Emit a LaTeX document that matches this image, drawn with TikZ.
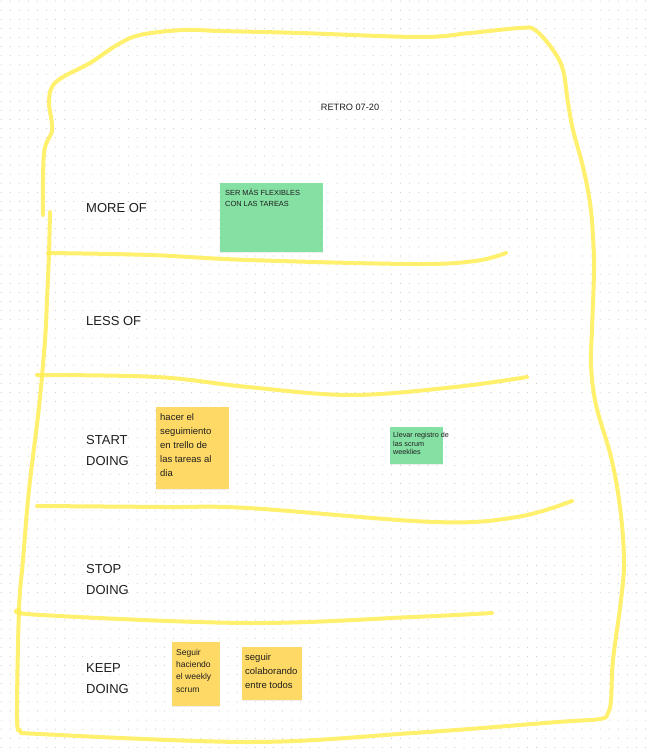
\documentclass[tikz,border=0pt]{standalone}
\usepackage{fontspec}
\setmainfont{Liberation Sans}
\usepackage{tikz}
\usetikzlibrary{positioning}
\usetikzlibrary{shadows}
\definecolor{notegreen}{HTML}{85E0A3}
\definecolor{noteyellow}{HTML}{FFD966}
\definecolor{marker}{HTML}{FFEE55}
\definecolor{inkdark}{HTML}{1E1E1E}
\tikzstyle{grid_dot}=[fill=black!22]
\tikzstyle{marker_line}=[draw=marker, opacity=0.85, line width=4pt, line cap=round, line join=round]
\tikzstyle{lane_label}=[anchor=west, inner sep=0pt, text=inkdark, align=left,
    font=\fontsize{13}{21}\selectfont]
\tikzstyle{note}=[anchor=north west, inner sep=0pt, draw=none,
    drop shadow={shadow xshift=0pt, shadow yshift=-1pt, opacity=0.12}]
\tikzstyle{note_green}=[note, fill=notegreen]
\tikzstyle{note_yellow}=[note, fill=noteyellow]
\tikzstyle{note_text}=[anchor=north west, inner sep=0pt, text=inkdark, align=left]

\begin{document}
\begin{tikzpicture}[x=1pt, y=-1pt]
\fill[white] (0,0) rectangle (646,751);
\useasboundingbox (0,0) rectangle (646,751);
\foreach \i in {0,...,71}{
  \foreach \j in {0,...,82}{
    \fill[grid_dot] ({1.2+\i*9.075},{1.2+\j*9.1}) circle (0.55);
  }
}
\draw[marker_line] plot[smooth, tension=0.6] coordinates {(43,215) (44,153) (52,130) (49,103) (52,87)
  (63,77) (90,63) (117,45) (140,35) (183,30) (220,31) (300,33) (420,37) (470,33) (520,28) (535,30)
  (553,50) (563,70) (568,103) (573,130) (583,167) (590,203) (593,237) (594,270) (592,330) (591,365)
  (596,405) (611,457) (620,507) (624,560) (621,600) (613,660) (611,700) (608,713) (600,719)
  (558,722) (413,733) (248,742) (21,733)};
\draw[marker_line] plot[smooth, tension=0.6] coordinates {(50,212) (49,253) (47,300) (45,340) (39,407)
  (29,490) (23,560) (19,610) (17,717) (20,730)};
\draw[marker_line] plot[smooth, tension=0.6] coordinates {(48,253) (150,255) (248,260) (413,264)
  (475,261) (506,253)};
\draw[marker_line] plot[smooth, tension=0.6] coordinates {(37,375) (157,377) (248,387) (351,395)
  (455,387) (527,377)};
\draw[marker_line] plot[smooth, tension=0.6] coordinates {(37,506) (165,507) (248,508) (434,522)
  (517,517) (572,501)};
\draw[marker_line] plot[smooth, tension=0.6] coordinates {(19,610) (41,615) (248,623) (413,617)
  (492,613)};
\node[inner sep=0pt, text=inkdark, font=\fontsize{9.2}{11}\selectfont] (title) at (350,107) {RETRO 07-20};
\node[lane_label] (more) at (86,208) {MORE OF};
\node[lane_label] (less) at (86,321) {LESS OF};
\node[lane_label] (start) at (86,450.5) {START\\DOING};
\node[lane_label] (stop) at (86,579.5) {STOP\\DOING};
\node[lane_label] (keep) at (86,678.5) {KEEP\\DOING};
\node[note_green, minimum width=103pt, minimum height=69pt] (n_flex) at (220,183) {};
\node[note_text, font=\fontsize{7.4}{11}\selectfont] (t_flex) at (225,188.8) {SER MÁS FLEXIBLES\\CON LAS TAREAS};
\node[note_yellow, minimum width=73pt, minimum height=82pt] (n_trello) at (156,407) {};
\node[note_text, font=\fontsize{9.5}{14}\selectfont] (t_trello) at (160,413) {hacer el\\seguimiento\\en trello de\\las tareas al\\dia};
\node[note_green, minimum width=53pt, minimum height=37pt] (n_scrum) at (390,427) {};
\node[note_text, font=\fontsize{7.2}{8.7}\selectfont] (t_scrum) at (393,432) {Llevar registro de\\las scrum\\weeklies};
\node[note_yellow, minimum width=48pt, minimum height=64pt] (n_weekly) at (172,642) {};
\node[note_text, font=\fontsize{8.5}{12.3}\selectfont] (t_weekly) at (176,648.8) {Seguir\\haciendo\\el weekly\\scrum};
\node[note_yellow, minimum width=60pt, minimum height=53pt] (n_colab) at (242,647) {};
\node[note_text, font=\fontsize{9.5}{13.7}\selectfont] (t_colab) at (245,653.7) {seguir\\colaborando\\entre todos};
\end{tikzpicture}
\end{document}
